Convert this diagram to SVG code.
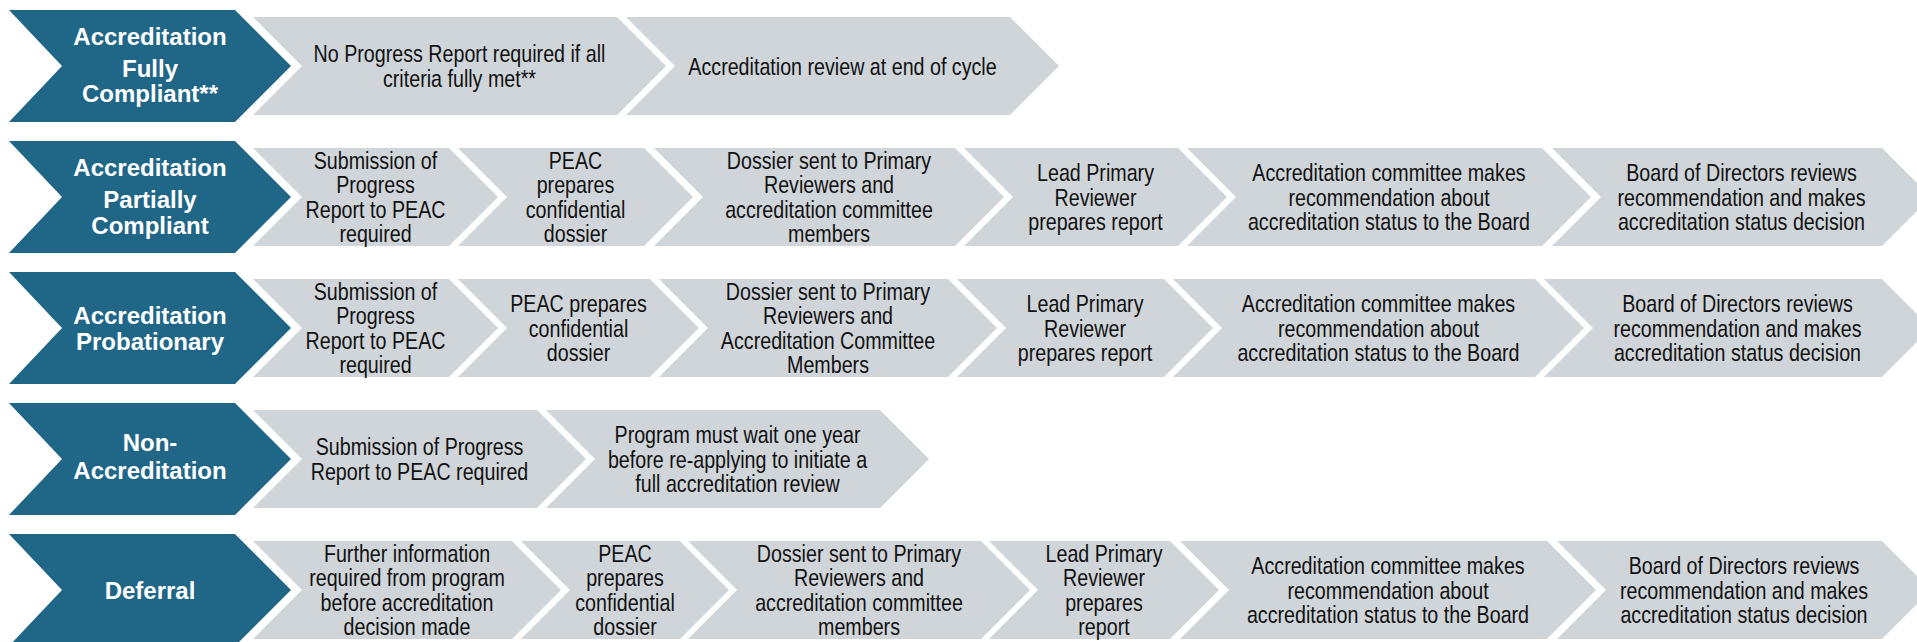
<svg xmlns="http://www.w3.org/2000/svg" width="1917" height="642" viewBox="0 0 1917 642">
<style>
.dk{fill:#1F6687}
.gr{fill:#D0D5DA}
.lb{font-family:"Liberation Sans",Arial,sans-serif;font-weight:bold;font-size:24px;fill:#FFFFFF;text-anchor:middle}
.tx{font-family:"Liberation Sans",Arial,sans-serif;font-size:24px;fill:#111111;text-anchor:middle}
</style>
<rect width="1917" height="642" fill="#FFFFFF"/>
<g id="connectors"/>

<!-- Row 1 -->
<g id="r1-label">
<path class="dk" d="M9,10 L235,10 L291,66 L235,122 L9,122 L62,66 Z"/>
<text class="lb"><tspan x="150" y="45">Accreditation</tspan><tspan x="150" y="77">Fully</tspan><tspan x="150" y="102">Compliant**</tspan></text>
</g>
<g id="r1-s1">
<path class="gr" d="M253,17 L617,17 L666,66 L617,115 L253,115 L302,66 Z"/>
<text class="tx" transform="translate(459.5 0) scale(0.82 1)"><tspan x="0" y="62.4">No Progress Report required if all</tspan><tspan x="0" y="86.8">criteria fully met**</tspan></text>
</g>
<g id="r1-s2">
<path class="gr" d="M626,17 L1010,17 L1059,66 L1010,115 L626,115 L675,66 Z"/>
<text class="tx" transform="translate(842.5 0) scale(0.82 1)"><tspan x="0" y="74.6">Accreditation review at end of cycle</tspan></text>
</g>

<!-- Row 2 -->
<g id="r2-label">
<path class="dk" d="M9,141 L235,141 L291,197 L235,253 L9,253 L62,197 Z"/>
<text class="lb"><tspan x="150" y="176">Accreditation</tspan><tspan x="150" y="208">Partially</tspan><tspan x="150" y="234">Compliant</tspan></text>
</g>
<g id="r2-s1">
<path class="gr" d="M253,148 L449,148 L498,197 L449,246 L253,246 L302,197 Z"/>
<text class="tx" transform="translate(375.5 0) scale(0.82 1)"><tspan x="0" y="169">Submission of</tspan><tspan x="0" y="193.4">Progress</tspan><tspan x="0" y="217.8">Report to PEAC</tspan><tspan x="0" y="242.2">required</tspan></text>
</g>
<g id="r2-s2">
<path class="gr" d="M458,148 L644,148 L693,197 L644,246 L458,246 L507,197 Z"/>
<text class="tx" transform="translate(575.5 0) scale(0.82 1)"><tspan x="0" y="169">PEAC</tspan><tspan x="0" y="193.4">prepares</tspan><tspan x="0" y="217.8">confidential</tspan><tspan x="0" y="242.2">dossier</tspan></text>
</g>
<g id="r2-s3">
<path class="gr" d="M654,148 L955,148 L1004,197 L955,246 L654,246 L703,197 Z"/>
<text class="tx" transform="translate(829 0) scale(0.82 1)"><tspan x="0" y="169">Dossier sent to Primary</tspan><tspan x="0" y="193.4">Reviewers and</tspan><tspan x="0" y="217.8">accreditation committee</tspan><tspan x="0" y="242.2">members</tspan></text>
</g>
<g id="r2-s4">
<path class="gr" d="M964,148 L1178,148 L1227,197 L1178,246 L964,246 L1013,197 Z"/>
<text class="tx" transform="translate(1095.5 0) scale(0.82 1)"><tspan x="0" y="181.2">Lead Primary</tspan><tspan x="0" y="205.6">Reviewer</tspan><tspan x="0" y="230">prepares report</tspan></text>
</g>
<g id="r2-s5">
<path class="gr" d="M1187,148 L1542,148 L1591,197 L1542,246 L1187,246 L1236,197 Z"/>
<text class="tx" transform="translate(1389 0) scale(0.82 1)"><tspan x="0" y="181.2">Accreditation committee makes</tspan><tspan x="0" y="205.6">recommendation about</tspan><tspan x="0" y="230">accreditation status to the Board</tspan></text>
</g>
<g id="r2-s6">
<path class="gr" d="M1552,148 L1882,148 L1931,197 L1882,246 L1552,246 L1601,197 Z"/>
<text class="tx" transform="translate(1741.5 0) scale(0.82 1)"><tspan x="0" y="181.2">Board of Directors reviews</tspan><tspan x="0" y="205.6">recommendation and makes</tspan><tspan x="0" y="230">accreditation status decision</tspan></text>
</g>

<!-- Row 3 -->
<g id="r3-label">
<path class="dk" d="M9,272 L235,272 L291,328 L235,384 L9,384 L62,328 Z"/>
<text class="lb"><tspan x="150" y="324">Accreditation</tspan><tspan x="150" y="350">Probationary</tspan></text>
</g>
<g id="r3-s1">
<path class="gr" d="M253,279 L449,279 L498,328 L449,377 L253,377 L302,328 Z"/>
<text class="tx" transform="translate(375.5 0) scale(0.82 1)"><tspan x="0" y="300">Submission of</tspan><tspan x="0" y="324.4">Progress</tspan><tspan x="0" y="348.8">Report to PEAC</tspan><tspan x="0" y="373.2">required</tspan></text>
</g>
<g id="r3-s2">
<path class="gr" d="M458,279 L650,279 L699,328 L650,377 L458,377 L507,328 Z"/>
<text class="tx" transform="translate(578.5 0) scale(0.82 1)"><tspan x="0" y="312.2">PEAC prepares</tspan><tspan x="0" y="336.6">confidential</tspan><tspan x="0" y="361">dossier</tspan></text>
</g>
<g id="r3-s3">
<path class="gr" d="M659,279 L948,279 L997,328 L948,377 L659,377 L708,328 Z"/>
<text class="tx" transform="translate(828 0) scale(0.82 1)"><tspan x="0" y="300">Dossier sent to Primary</tspan><tspan x="0" y="324.4">Reviewers and</tspan><tspan x="0" y="348.8">Accreditation Committee</tspan><tspan x="0" y="373.2">Members</tspan></text>
</g>
<g id="r3-s4">
<path class="gr" d="M957,279 L1164,279 L1213,328 L1164,377 L957,377 L1006,328 Z"/>
<text class="tx" transform="translate(1085 0) scale(0.82 1)"><tspan x="0" y="312.2">Lead Primary</tspan><tspan x="0" y="336.6">Reviewer</tspan><tspan x="0" y="361">prepares report</tspan></text>
</g>
<g id="r3-s5">
<path class="gr" d="M1173,279 L1535,279 L1584,328 L1535,377 L1173,377 L1222,328 Z"/>
<text class="tx" transform="translate(1378.5 0) scale(0.82 1)"><tspan x="0" y="312.2">Accreditation committee makes</tspan><tspan x="0" y="336.6">recommendation about</tspan><tspan x="0" y="361">accreditation status to the Board</tspan></text>
</g>
<g id="r3-s6">
<path class="gr" d="M1544,279 L1882,279 L1931,328 L1882,377 L1544,377 L1593,328 Z"/>
<text class="tx" transform="translate(1737.5 0) scale(0.82 1)"><tspan x="0" y="312.2">Board of Directors reviews</tspan><tspan x="0" y="336.6">recommendation and makes</tspan><tspan x="0" y="361">accreditation status decision</tspan></text>
</g>

<!-- Row 4 -->
<g id="r4-label">
<path class="dk" d="M9,403 L235,403 L291,459 L235,515 L9,515 L62,459 Z"/>
<text class="lb"><tspan x="150" y="451">Non-</tspan><tspan x="150" y="479">Accreditation</tspan></text>
</g>
<g id="r4-s1">
<path class="gr" d="M253,410 L537,410 L586,459 L537,508 L253,508 L302,459 Z"/>
<text class="tx" transform="translate(419.5 0) scale(0.82 1)"><tspan x="0" y="455.4">Submission of Progress</tspan><tspan x="0" y="479.8">Report to PEAC required</tspan></text>
</g>
<g id="r4-s2">
<path class="gr" d="M546,410 L880,410 L929,459 L880,508 L546,508 L595,459 Z"/>
<text class="tx" transform="translate(737.5 0) scale(0.82 1)"><tspan x="0" y="443.2">Program must wait one year</tspan><tspan x="0" y="467.6">before re-applying to initiate a</tspan><tspan x="0" y="492">full accreditation review</tspan></text>
</g>

<!-- Row 5 -->
<g id="r5-label">
<path class="dk" d="M9,534 L235,534 L291,590 L235,646 L9,646 L62,590 Z"/>
<text class="lb"><tspan x="150" y="599">Deferral</tspan></text>
</g>
<g id="r5-s1">
<path class="gr" d="M253,541 L512,541 L561,590 L512,639 L253,639 L302,590 Z"/>
<text class="tx" transform="translate(407 0) scale(0.82 1)"><tspan x="0" y="562">Further information</tspan><tspan x="0" y="586.4">required from program</tspan><tspan x="0" y="610.8">before accreditation</tspan><tspan x="0" y="635.2">decision made</tspan></text>
</g>
<g id="r5-s2">
<path class="gr" d="M521,541 L680,541 L729,590 L680,639 L521,639 L570,590 Z"/>
<text class="tx" transform="translate(625 0) scale(0.82 1)"><tspan x="0" y="562">PEAC</tspan><tspan x="0" y="586.4">prepares</tspan><tspan x="0" y="610.8">confidential</tspan><tspan x="0" y="635.2">dossier</tspan></text>
</g>
<g id="r5-s3">
<path class="gr" d="M688,541 L981,541 L1030,590 L981,639 L688,639 L737,590 Z"/>
<text class="tx" transform="translate(859 0) scale(0.82 1)"><tspan x="0" y="562">Dossier sent to Primary</tspan><tspan x="0" y="586.4">Reviewers and</tspan><tspan x="0" y="610.8">accreditation committee</tspan><tspan x="0" y="635.2">members</tspan></text>
</g>
<g id="r5-s4">
<path class="gr" d="M989,541 L1170,541 L1219,590 L1170,639 L989,639 L1038,590 Z"/>
<text class="tx" transform="translate(1104 0) scale(0.82 1)"><tspan x="0" y="562">Lead Primary</tspan><tspan x="0" y="586.4">Reviewer</tspan><tspan x="0" y="610.8">prepares</tspan><tspan x="0" y="635.2">report</tspan></text>
</g>
<g id="r5-s5">
<path class="gr" d="M1180,541 L1547,541 L1596,590 L1547,639 L1180,639 L1229,590 Z"/>
<text class="tx" transform="translate(1388 0) scale(0.82 1)"><tspan x="0" y="574.2">Accreditation committee makes</tspan><tspan x="0" y="598.6">recommendation about</tspan><tspan x="0" y="623">accreditation status to the Board</tspan></text>
</g>
<g id="r5-s6">
<path class="gr" d="M1557,541 L1882,541 L1931,590 L1882,639 L1557,639 L1606,590 Z"/>
<text class="tx" transform="translate(1744 0) scale(0.82 1)"><tspan x="0" y="574.2">Board of Directors reviews</tspan><tspan x="0" y="598.6">recommendation and makes</tspan><tspan x="0" y="623">accreditation status decision</tspan></text>
</g>
</svg>
